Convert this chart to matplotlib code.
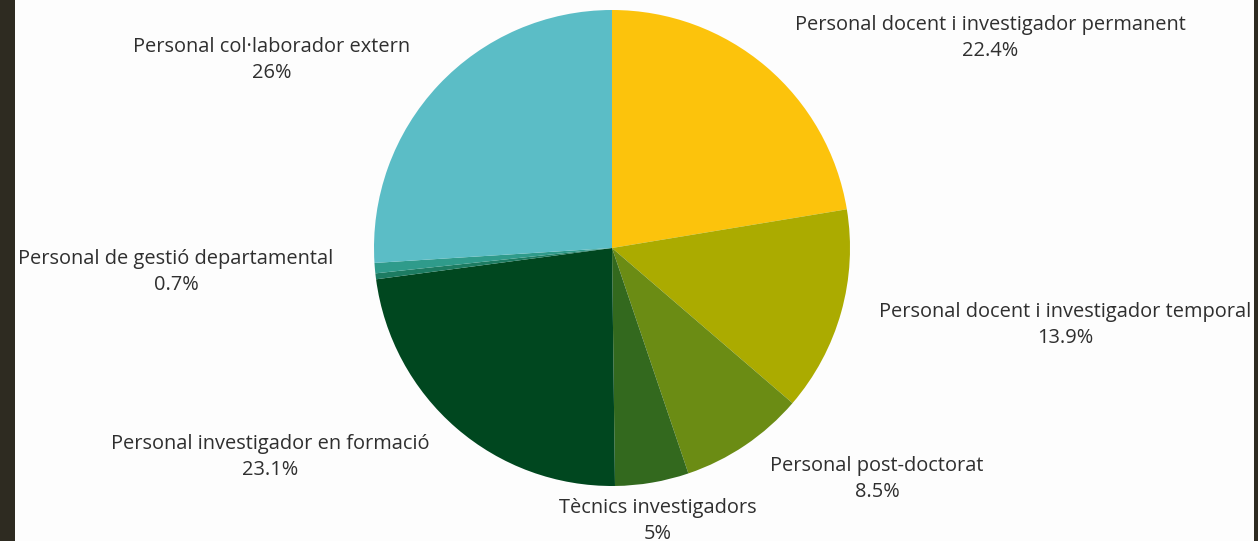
import matplotlib
matplotlib.use("Agg")
import matplotlib.pyplot as plt

# Staff composition (percent), clockwise from 12 o'clock
categories = [
    "Personal docent i investigador permanent",
    "Personal docent i investigador temporal",
    "Personal post-doctorat",
    "Tècnics investigadors",
    "Personal investigador en formació",
    "Altres",
    "Personal de gestió departamental",
    "Personal col·laborador extern",
]
values = [22.4, 13.9, 8.5, 5.0, 23.1, 0.4, 0.7, 26.0]
show_label = [True, True, True, True, True, False, True, True]

colors = ["#fcc30c", "#abab00", "#6b8c14", "#33691e", "#00471f",
          "#1d7c62", "#2f9b8b", "#5bbdc6"]

# Label anchor points in pixel space (x, y from top), centred text
label_pos = [(990, 25), (1065, 312), (877, 466), (658, 508),
             (270, 444), None, (176, 259), (272, 47)]

W, H = 1258, 541
fig = plt.figure(figsize=(W / 100, H / 100), dpi=100)
fig.patch.set_facecolor("#2e2b21")

ax = fig.add_axes([15 / W, 0, 1239 / W, 1])
ax.set_facecolor("#fdfdfd")
ax.pie(values, colors=colors, startangle=90, counterclock=False,
       radius=238, center=(612, H - 248),
       wedgeprops=dict(linewidth=0), frame=True)
ax.set_xlim(15, 1254)
ax.set_ylim(0, H)
ax.set_aspect("auto")
for s in ax.spines.values():
    s.set_visible(False)
ax.set_xticks([])
ax.set_yticks([])

font = dict(family=["Open Sans", "DejaVu Sans"], size=14.4, color="#2f2f2f")
for name, val, show, pos in zip(categories, values, show_label, label_pos):
    if not show:
        continue
    x, y = pos
    ax.text(x, H - y, name, ha="center", va="center", **font)
    ax.text(x, H - y - 26, f"{val:g}%", ha="center", va="center", **font)

fig.savefig("out.png", dpi=100, facecolor=fig.get_facecolor())
